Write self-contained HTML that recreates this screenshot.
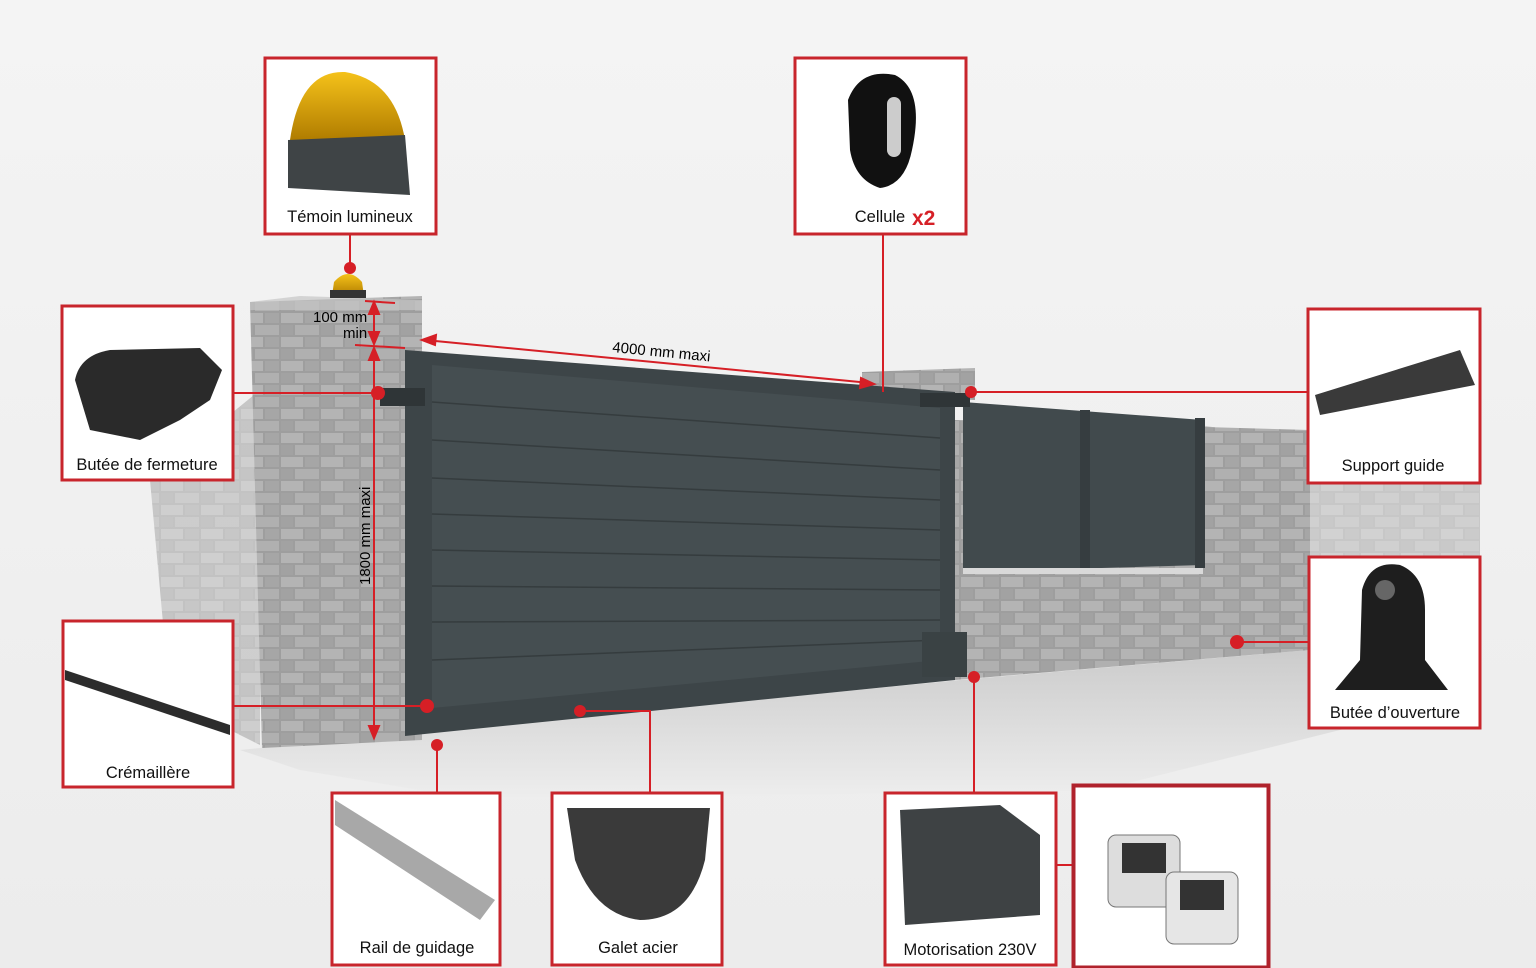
<!DOCTYPE html>
<html><head><meta charset="utf-8"><style>
html,body{margin:0;padding:0;width:1536px;height:968px;overflow:hidden;background:#f2f2f2}
svg{display:block}
text{font-family:"Liberation Sans",sans-serif}
</style></head><body>
<svg width="1536" height="968" viewBox="0 0 1536 968" xmlns="http://www.w3.org/2000/svg">
<defs>
<linearGradient id="bg" x1="0" y1="0" x2="0" y2="1"><stop offset="0" stop-color="#f4f4f4"/><stop offset="1" stop-color="#ececec"/></linearGradient>
<linearGradient id="ground" x1="0" y1="0" x2="0" y2="1"><stop offset="0" stop-color="#c9c9c9"/><stop offset="1" stop-color="#eeeeee"/></linearGradient>
<pattern id="stone" width="40" height="24" patternUnits="userSpaceOnUse"><rect width="40" height="24" fill="#9e9e9e"/><rect x="1" y="1" width="22" height="10" fill="#b4b4b4"/><rect x="25" y="1" width="14" height="10" fill="#a6a6a6"/><rect x="1" y="13" width="12" height="10" fill="#a2a2a2"/><rect x="15" y="13" width="24" height="10" fill="#b0b0b0"/></pattern>
<linearGradient id="yel" x1="0" y1="0" x2="0" y2="1"><stop offset="0" stop-color="#f5c21a"/><stop offset="1" stop-color="#b07c00"/></linearGradient>
</defs>
<rect width="1536" height="968" fill="url(#bg)"/>
<polygon points="240,750 960,680 1310,650 1480,640 1460,700 1100,790 480,800 300,770" fill="url(#ground)"/>
<polygon points="150,480 260,390 260,745 170,700" fill="url(#stone)" opacity="0.55"/>
<polygon points="955,420 1310,430 1310,650 955,680" fill="url(#stone)"/>
<polygon points="1200,425 1480,470 1480,560 1310,650 1200,655" fill="url(#stone)" opacity="0.5"/>
<polygon points="963,402 1203,420 1203,565 963,572" fill="#414a4d"/>
<rect x="1080" y="410" width="10" height="162" fill="#363d40"/>
<rect x="1195" y="418" width="10" height="150" fill="#363d40"/>
<rect x="963" y="568" width="240" height="6" fill="#d9d9d9"/>
<polygon points="862,372 975,368 975,400 862,395" fill="url(#stone)"/>
<polygon points="250,302 422,296 422,740 262,748" fill="url(#stone)"/>
<polygon points="250,302 300,296 422,300 422,310 250,310" fill="#c6c6c6" opacity="0.7"/>
<polygon points="405,350 955,392 955,680 405,736" fill="#3d4548"/>
<polygon points="432,365 940,408 940,660 432,708" fill="#454e51"/>
<g stroke="#353c3e" stroke-width="1.5">
<line x1="432" y1="402" x2="940" y2="438"/><line x1="432" y1="440" x2="940" y2="470"/><line x1="432" y1="478" x2="940" y2="500"/><line x1="432" y1="514" x2="940" y2="530"/><line x1="432" y1="550" x2="940" y2="560"/><line x1="432" y1="586" x2="940" y2="590"/><line x1="432" y1="622" x2="940" y2="620"/><line x1="432" y1="660" x2="940" y2="640"/>
</g>
<rect x="380" y="388" width="45" height="18" fill="#2f3537"/>
<rect x="920" y="393" width="50" height="14" fill="#2f3537"/>
<rect x="922" y="632" width="45" height="45" fill="#3a4244"/>
<path d="M332,296 L334,282 Q348,266 362,282 L364,296 Z" fill="url(#yel)"/>
<rect x="330" y="290" width="36" height="8" fill="#333"/>
<g stroke="#d61f26" stroke-width="2" fill="#d61f26">
<line x1="365" y1="301" x2="395" y2="303"/><line x1="355" y1="345" x2="405" y2="348"/>
<line x1="374" y1="305" x2="374" y2="343"/><line x1="374" y1="350" x2="374" y2="735"/>
<line x1="425" y1="340" x2="870" y2="383"/>
<polygon points="374,302 369,314 379,314"/><polygon points="374,344 369,332 379,332"/>
<polygon points="374,348 369,360 379,360"/><polygon points="374,738 369,726 379,726"/>
<polygon points="422,340 436,335 435,345"/><polygon points="874,384 860,388 861,378"/>
</g>
<text x="313" y="322" font-size="15">100 mm</text>
<text x="343" y="338" font-size="15">min</text>
<text x="612" y="352" font-size="15" transform="rotate(5.5 612 352)">4000 mm maxi</text>
<text x="370" y="585" font-size="15" transform="rotate(-90 370 585)">1800 mm maxi</text>
<g stroke="#d61f26" stroke-width="2" fill="none">
<line x1="350" y1="235" x2="350" y2="268"/>
<line x1="883" y1="235" x2="883" y2="392"/>
<line x1="234" y1="393" x2="378" y2="393"/>
<line x1="970" y1="392" x2="1307" y2="392"/>
<line x1="1238" y1="642" x2="1308" y2="642"/>
<line x1="234" y1="706" x2="428" y2="706"/>
<line x1="437" y1="745" x2="437" y2="792"/>
<polyline points="580,711 650,711 650,792"/>
<line x1="974" y1="677" x2="974" y2="792"/>
<line x1="1057" y1="865" x2="1072" y2="865"/>
</g>
<g fill="#d61f26">
<circle cx="350" cy="268" r="6"/><circle cx="378" cy="393" r="7"/><circle cx="971" cy="392" r="6"/>
<circle cx="1237" cy="642" r="7"/><circle cx="427" cy="706" r="7"/><circle cx="437" cy="745" r="6"/>
<circle cx="580" cy="711" r="6"/><circle cx="974" cy="677" r="6"/>
</g>
<g fill="#fff" stroke="#c8252c" stroke-width="3">
<rect x="265" y="58" width="171" height="176"/>
<rect x="795" y="58" width="171" height="176"/>
<rect x="62" y="306" width="171" height="174"/>
<rect x="1308" y="309" width="172" height="174"/>
<rect x="1309" y="557" width="171" height="171"/>
<rect x="63" y="621" width="170" height="166"/>
<rect x="332" y="793" width="168" height="172"/>
<rect x="552" y="793" width="170" height="172"/>
<rect x="885" y="793" width="171" height="172"/>
</g>
<rect x="1073.5" y="785.5" width="195" height="182" fill="#fff" stroke="#b0222c" stroke-width="4"/>
<path d="M290,140 Q300,70 345,72 Q395,80 405,140 Z" fill="url(#yel)"/>
<path d="M288,140 L405,135 L410,195 L288,188 Z" fill="#3f4446"/>
<path d="M848,100 Q860,68 895,75 Q925,90 912,150 Q905,185 880,188 Q855,180 850,150 Z" fill="#111"/>
<rect x="887" y="97" width="14" height="60" rx="7" fill="#ccc"/>
<path d="M75,380 Q80,355 110,350 L200,348 L222,370 L210,400 L180,420 L140,440 L90,430 Z" fill="#2a2a2a"/>
<path d="M1315,395 L1460,350 L1475,385 L1320,415 Z" fill="#3a3a3a"/>
<path d="M1335,690 L1360,660 L1362,590 Q1370,560 1400,565 Q1425,575 1425,610 L1425,660 L1448,690 Z" fill="#1e1e1e"/>
<circle cx="1385" cy="590" r="10" fill="#666"/>
<path d="M65,670 L230,725 L230,735 L65,680 Z" fill="#2c2c2c"/>
<path d="M335,800 L495,900 L480,920 L335,825 Z" fill="#a8a8a8"/>
<path d="M567,808 L710,808 L705,860 Q690,920 640,920 Q595,915 575,860 Z" fill="#3a3a3a"/>
<path d="M900,810 L1000,805 L1040,835 L1040,915 L905,925 Z" fill="#3e4244"/>
<rect x="1108" y="835" width="72" height="72" rx="8" fill="#ddd" stroke="#777"/>
<rect x="1122" y="843" width="44" height="30" fill="#333"/>
<rect x="1166" y="872" width="72" height="72" rx="8" fill="#e6e6e6" stroke="#777"/>
<rect x="1180" y="880" width="44" height="30" fill="#333"/>
<g font-size="16.5" fill="#111" text-anchor="middle">
<text x="350" y="222">Témoin lumineux</text>
<text x="880" y="222">Cellule</text>
<text x="147" y="470">Butée de fermeture</text>
<text x="1393" y="471">Support guide</text>
<text x="1395" y="718">Butée d’ouverture</text>
<text x="148" y="778">Crémaillère</text>
<text x="417" y="953">Rail de guidage</text>
<text x="638" y="953">Galet acier</text>
<text x="970" y="955">Motorisation 230V</text>
</g>
<text x="912" y="225" font-size="21" font-weight="bold" fill="#d61f26">x2</text>
</svg>
</body></html>
